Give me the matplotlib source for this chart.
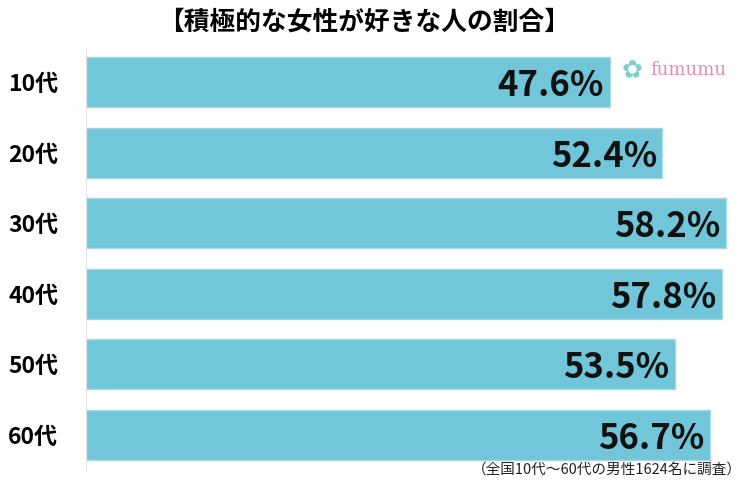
import matplotlib.pyplot as plt

plt.rcParams['font.family'] = ['Noto Sans CJK JP', 'DejaVu Sans']

# data
ages = ['10代', '20代', '30代', '40代', '50代', '60代']
values = [47.6, 52.4, 58.2, 57.8, 53.5, 56.7]
title = '【積極的な女性が好きな人の割合】'
note = '（全国10代～60代の男性1624名に調査）'

fig = plt.figure(figsize=(7.49, 4.99), dpi=100)
ax = fig.add_axes([86 / 749, 29 / 499, 660 / 749, 423 / 499])

y_pos = list(range(len(ages)))
ax.barh(y_pos, values, height=0.71, color='#71C6DA', edgecolor='#A6D7E3', linewidth=1)

for i, v in enumerate(values):
    ax.text(v - 0.5, i + 0.05, f'{v}%', ha='right', va='center',
            fontsize=25, fontweight='bold', color='#111111')

ax.set_xlim(0, 60)
ax.set_ylim(5.5, -0.5)
ax.set_yticks(y_pos)
ax.set_yticklabels(ages, fontsize=16.5, fontweight='bold')
ax.tick_params(axis='y', length=0, pad=20)
ax.set_xticks([])
for s in ['top', 'right', 'bottom']:
    ax.spines[s].set_visible(False)
ax.spines['left'].set_color('#E3E3E3')

fig.text(0.486, 0.955, title, ha='center', va='center', fontsize=18.5, fontweight='bold')
fig.text(0.99, 0.058, note, ha='right', va='center', fontsize=10.5, color='#222222')

# logo
fig.text(632 / 749, 1 - 70 / 499, '✿', ha='center', va='center', fontsize=18,
         color='#7FCFCB', family='DejaVu Sans')
fig.text(650 / 749, 1 - 70 / 499, 'fumumu', ha='left', va='center', fontsize=13,
         color='#E38DB3', family='DejaVu Serif')

fig.savefig('out.png', dpi=100)
